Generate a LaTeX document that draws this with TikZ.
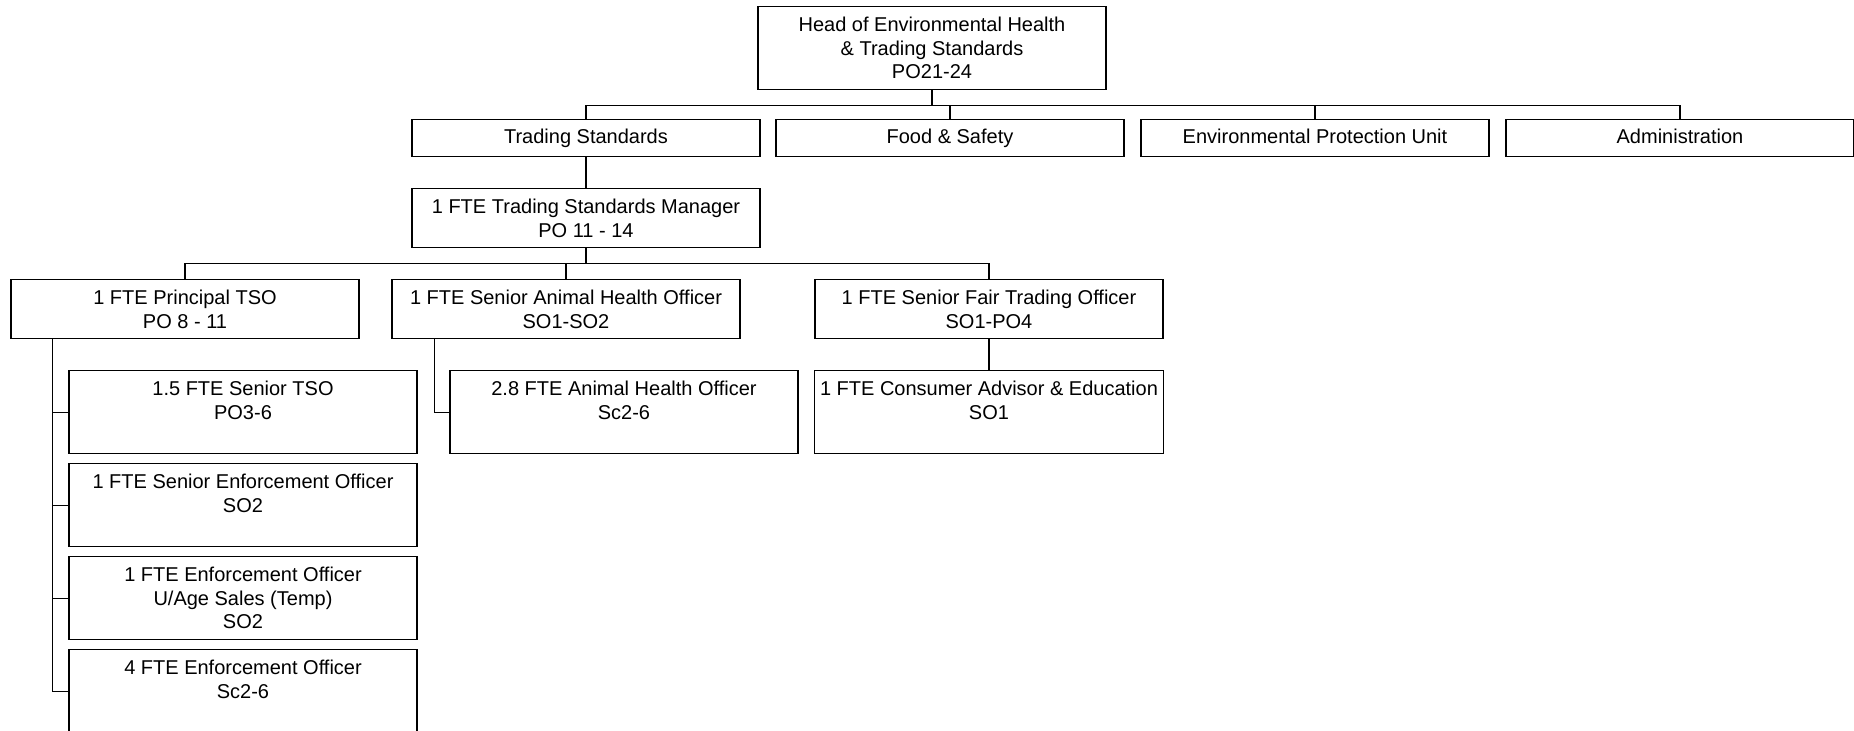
\documentclass[tikz,border=0pt]{standalone}
\usepackage{fontspec}
\setmainfont{Liberation Sans}

\begin{document}
\begin{tikzpicture}[x=0.5pt, y=-0.5pt, line width=0.6pt,
		post/.style={draw, anchor=north, align=center, minimum width=174pt, inner sep=2.8pt, font=\fontsize{10}{11.8}\selectfont},
		one/.style={post, minimum height=18.5pt, text height=8.3pt, text depth=2.7pt},
		two/.style={post, minimum height=29.5pt},
		three/.style={post, minimum height=41.5pt}]
		\useasboundingbox (0, 0) rectangle (1854, 730);

		\node[three] at (932, 6) (head) {Head of Environmental Health\\\& Trading Standards\\PO21-24};

		\node[one] at (586, 119) (ts) {Trading Standards};
		\node[one] at (950, 119) (fs) {Food \& Safety};
		\node[one] at (1315, 119) (epu) {Environmental Protection Unit};
		\node[one] at (1680, 119) (adm) {Administration};

		\node[two] at (586, 188) (tsm) {1 FTE Trading Standards Manager\\PO 11 - 14};

		\node[two] at (185, 279) (ptso) {1 FTE Principal TSO\\PO 8 - 11};
		\node[two] at (566, 279) (saho) {1 FTE Senior Animal Health Officer\\SO1-SO2};
		\node[two] at (989, 279) (sfto) {1 FTE Senior Fair Trading Officer\\SO1-PO4};

		\node[three] at (243, 370) (stso) {1.5 FTE Senior TSO\\PO3-6\\~};
		\node[three] at (243, 463) (seo) {1 FTE Senior Enforcement Officer\\SO2\\~};
		\node[three] at (243, 556) (eou) {1 FTE Enforcement Officer\\U/Age Sales (Temp)\\SO2};
		\node[three] at (243, 649) (eo) {4 FTE Enforcement Officer\\Sc2-6\\~};

		\node[three] at (624, 370) (aho) {2.8 FTE Animal Health Officer\\Sc2-6\\~};
		\node[three] at (989, 370) (cae) {1 FTE Consumer Advisor \& Education\\SO1\\~};

		% head to units
		\foreach \unit in {ts, fs, epu, adm}
			\draw (head.south) -- ++(0, 15) -| (\unit.north);
		\draw (ts) -- (tsm);

		% manager to officers
		\foreach \officer in {ptso, saho, sfto}
			\draw (tsm.south) -- ++(0, 15) -| (\officer.north);

		% principal TSO team
		\foreach \staff in {stso, seo, eou, eo}
			\draw ([xshift=-8pt]stso.west |- ptso.south) |- (\staff.west);
		\draw ([xshift=-7.5pt]aho.west |- saho.south) |- (aho.west);
		\draw (sfto) -- (cae);
	\end{tikzpicture}
\end{document}
